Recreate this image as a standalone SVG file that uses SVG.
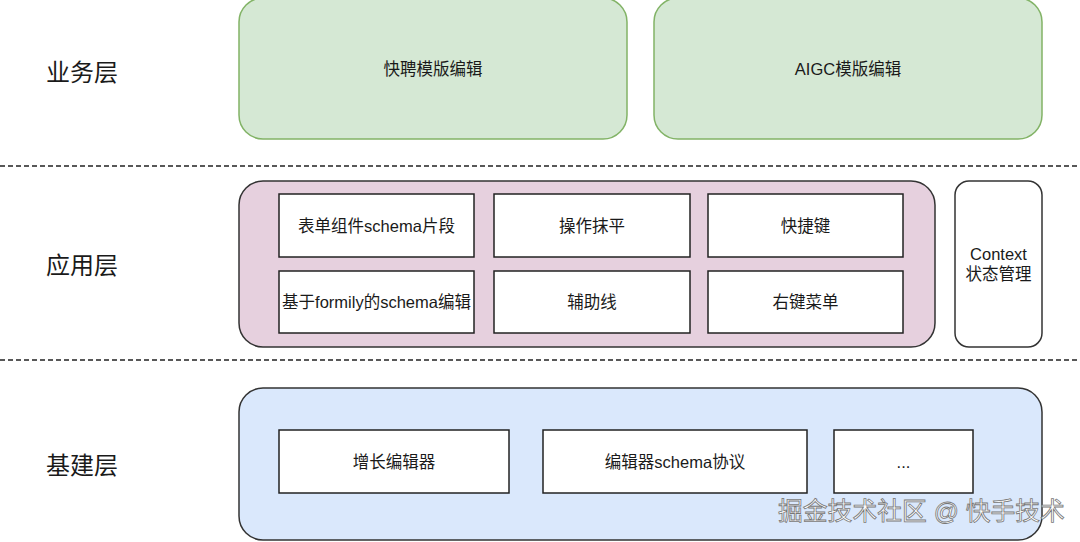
<svg xmlns="http://www.w3.org/2000/svg" width="1080" height="542" viewBox="0 0 1080 542">
<style>
text{font-family:"Liberation Sans","Noto Sans CJK SC",sans-serif;fill:#1a1a1a;text-anchor:middle;dominant-baseline:central}
.layer{font-size:24px}
.t{font-size:16.5px}
.green{fill:#d5e8d4;stroke:#82b366;stroke-width:1.5}
.pink{fill:#e6d0de;stroke:#333;stroke-width:1.5}
.blue{fill:#dae8fc;stroke:#333;stroke-width:1.5}
.box{fill:#fff;stroke:#222;stroke-width:1.5}
.dash{stroke:#222;stroke-width:1.5;stroke-dasharray:5 3;fill:none}
.wm{font-size:24.8px;fill:#fff;stroke:#777;stroke-width:0.8;text-anchor:start}
</style>
<rect width="1080" height="542" fill="#fff"/>
<g id="separators">
<line class="dash" x1="0" y1="166" x2="1080" y2="166"/>
<line class="dash" x1="0" y1="360" x2="1080" y2="360"/>
</g>
<g id="labels">
<text class="layer" x="82" y="72">业务层</text>
<text class="layer" x="82" y="265">应用层</text>
<text class="layer" x="82" y="465">基建层</text>
</g>
<g id="biz1"><rect class="green" x="239" y="-2" width="388" height="141" rx="24"/><text class="t" x="433" y="69">快聘模版编辑</text></g>
<g id="biz2"><rect class="green" x="654" y="-2" width="388" height="141" rx="24"/><text class="t" x="848" y="69">AIGC模版编辑</text></g>
<g id="app">
<rect class="pink" x="239" y="181" width="696" height="166" rx="24"/>
</g>
<g id="app1"><rect class="box" x="279" y="194" width="195" height="63"/><text class="t" x="376.5" y="225.5">表单组件schema片段</text></g>
<g id="app2"><rect class="box" x="494" y="194" width="196" height="63"/><text class="t" x="592" y="225.5">操作抹平</text></g>
<g id="app3"><rect class="box" x="708" y="194" width="195" height="63"/><text class="t" x="805.5" y="225.5">快捷键</text></g>
<g id="app4"><rect class="box" x="279" y="271" width="195" height="62"/><text class="t" x="376.5" y="302">基于formily的schema编辑</text></g>
<g id="app5"><rect class="box" x="494" y="271" width="196" height="62"/><text class="t" x="592" y="302">辅助线</text></g>
<g id="app6"><rect class="box" x="708" y="271" width="195" height="62"/><text class="t" x="805.5" y="302">右键菜单</text></g>
<g id="context"><rect class="box" x="955" y="181" width="87" height="166" rx="14" style="stroke:#333"/><text class="t" x="998.5" y="254">Context</text><text class="t" x="998.5" y="274">状态管理</text></g>
<g id="infra"><rect class="blue" x="239" y="388" width="803" height="152" rx="24"/></g>
<g id="infra1"><rect class="box" x="279" y="430" width="230" height="63"/><text class="t" x="394" y="462">增长编辑器</text></g>
<g id="infra2"><rect class="box" x="543" y="430" width="264" height="63"/><text class="t" x="675" y="462">编辑器schema协议</text></g>
<g id="infra3"><rect class="box" x="834" y="430" width="139" height="63"/><text class="t" x="903.5" y="462">...</text></g>
<g id="connectors"></g>
<text class="wm" x="778" y="511">掘金技术社区 @ 快手技术</text>
</svg>
